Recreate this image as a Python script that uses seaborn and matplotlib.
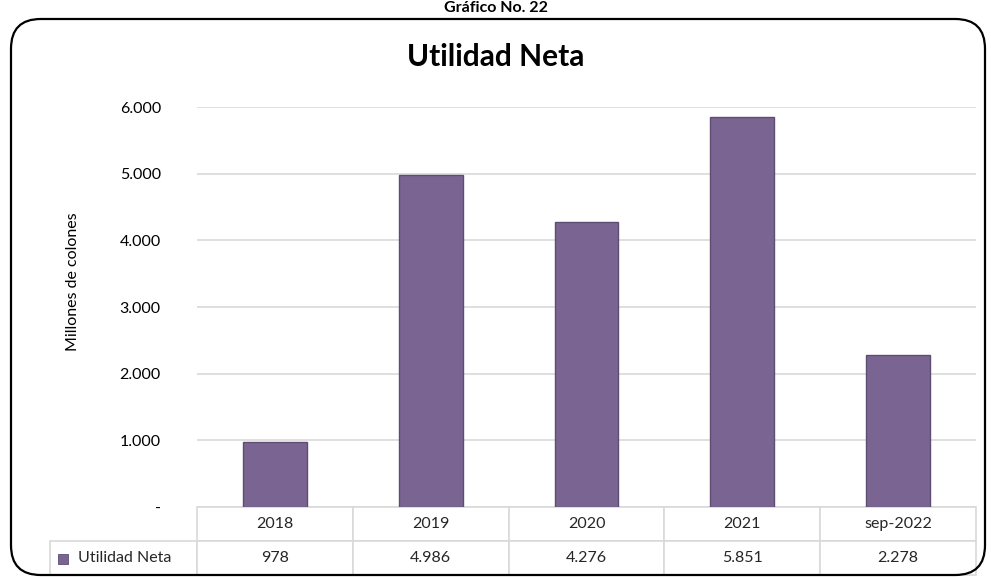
import matplotlib
matplotlib.use("Agg")
import matplotlib.pyplot as plt
import seaborn as sns
import pandas as pd
from matplotlib.patches import FancyBboxPatch, Rectangle

categories = ["2018", "2019", "2020", "2021", "sep-2022"]
values = [978, 4986, 4276, 5851, 2278]
yticks = [0, 1000, 2000, 3000, 4000, 5000, 6000]
series_name = "Utilidad Neta"

def fmt(v):
    return "-" if v == 0 else f"{v:,.0f}".replace(",", ".")

sns.set_theme(style="white")
plt.rcParams['font.family'] = ['Lato', 'DejaVu Sans']

W, H = 991, 578
fig = plt.figure(figsize=(W / 100, H / 100), dpi=100)

def fx(px):
    return px / W

def fy(py):
    return 1 - py / H

# rounded frame
frame = FancyBboxPatch((fx(11), fy(575)), fx(974), fy(19) - fy(575),
                       boxstyle="round,pad=0,rounding_size=0.03",
                       transform=fig.transFigure, fill=False,
                       edgecolor="black", linewidth=1.6, mutation_aspect=W / H)
fig.patches.append(frame)

fig.text(0.5, fy(15), "Gráfico No. 22", ha="center", va="bottom",
         fontsize=11.5, fontweight="bold", color="black")
fig.text(0.5, fy(57), "Utilidad Neta", ha="center", va="center",
         fontsize=21.5, fontweight="bold", color="black")

left, right, top, bottom = 197, 976, 107, 507
ax = fig.add_axes([fx(left), fy(bottom), fx(right - left), fy(top) - fy(bottom)])

df = pd.DataFrame({"cat": categories, "val": values})
bar_color = "#7A6592"
sns.barplot(data=df, x="cat", y="val", color=bar_color, width=0.41,
            edgecolor="#5E4D72", linewidth=1.0, saturation=1, ax=ax, zorder=3)

ax.set_ylim(0, 6000)
ax.set_xlim(-0.5, len(categories) - 0.5)
ax.set_yticks(yticks)
ax.set_yticklabels([fmt(v) for v in yticks], fontsize=11.5, color="black")
ax.tick_params(axis="y", length=0, pad=26)
ax.set_xticks([])
ax.set_xlabel("")
ax.set_ylabel("Millones de colones", fontsize=11.5, color="black")
ax.yaxis.set_label_coords((80 - left) / (right - left), (bottom - 282) / (bottom - top))
for s in ax.spines.values():
    s.set_visible(False)
ax.yaxis.grid(True, color="#D9D9D9", linewidth=1.2, zorder=0)
ax.set_axisbelow(True)

# data table
label_w = (left - 50) / (right - left)
row_h = 34 / (bottom - top)
cell_text = [[""] + categories, [series_name] + [fmt(v) for v in values]]
tbl = ax.table(cellText=cell_text, cellLoc="center",
               bbox=[-label_w, -2 * row_h, 1 + label_w, 2 * row_h],
               colWidths=[label_w] + [1 / len(categories)] * len(categories))
tbl.auto_set_font_size(False)
tbl.set_fontsize(11.5)
for (r, c), cell in tbl.get_celld().items():
    cell.set_edgecolor("#D9D9D9")
    cell.set_linewidth(1.2)
    if r == 0 and c == 0:
        cell.visible_edges = ""
    if r == 1 and c == 0:
        cell.get_text().set_ha("left")
        cell.PAD = 0.19

fig.patches.append(Rectangle((fx(58), fy(564)), fx(10), fy(554) - fy(564),
                             transform=fig.transFigure, facecolor=bar_color,
                             edgecolor="#5E4D72", linewidth=0.6))

fig.savefig("out.png", dpi=100)
